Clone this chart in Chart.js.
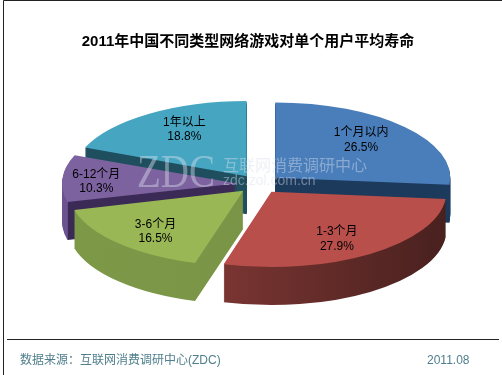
<!DOCTYPE html>
<html>
<head>
<meta charset="utf-8">
<script src="https://cdn.jsdelivr.net/npm/chart.js@4"></script>
<style>
  html, body { margin: 0; padding: 0; background: #fff; }
  #wrap { position: relative; width: 502px; height: 375px; overflow: hidden; }
</style>
</head>
<body>
<div id="wrap"><canvas id="lifeChart" width="502" height="375"></canvas></div>
<script>
  // ------------------------------- Data -------------------------------------
  const categories = ['1个月以内', '1-3个月', '3-6个月', '6-12个月', '1年以上'];
  const shares = [26.5, 27.9, 16.5, 10.3, 18.8];

  const titleText = '2011年中国不同类型网络游戏对单个用户平均寿命';
  const sourceText = '数据来源：互联网消费调研中心(ZDC)';
  const dateText = '2011.08';

  // ------------------------------ Colors ------------------------------------
  const TOP_COL = ['#4a7ebb', '#b94f4b', '#9ab755', '#7d62a0', '#46a6c2'];
  const FONT = '"Liberation Sans", "Noto Sans CJK SC", sans-serif';

  // ------------------------------ 3D look -----------------------------------
  const RADIUS = 175;
  const EXPLODE = 22;
  const SQUASH = 0.43; // ellipse height / width
  const DEPTH = 38;
  const SHIFT_X = 11; // pie sits right of the title's centre
  const DRAW_ORDER = [4, 0, 3, 2, 1]; // back to front

  // label distance from the wedge tip, and a small vertical nudge
  const LABEL_R = [116, 116, 123, 141, 112];
  const LABEL_DY = [-4, 6, 4, 2, -6.5];

  function sideFill(ctx, i, cx) {
    const g = ctx.createLinearGradient(cx - 200, 0, cx + 200, 0);
    if (i === 0) {
      g.addColorStop(0, '#1c3a5c');
      g.addColorStop(1, '#1c3a5c');
    } else if (i === 1) {
      g.addColorStop(0, '#97423f');
      g.addColorStop(0.35, '#7c3633');
      g.addColorStop(0.95, '#47201e');
      g.addColorStop(1, '#47201e');
    } else if (i === 2) {
      g.addColorStop(0, '#7d9a48');
      g.addColorStop(1, '#778f45');
    } else if (i === 3) {
      // outer rim on the far left, then the dark cut face
      g.addColorStop(0, '#6d5290');
      g.addColorStop(0.076, '#6d5290');
      g.addColorStop(0.077, '#3b2a56');
      g.addColorStop(1, '#3b2a56');
    } else {
      g.addColorStop(0, '#1f4e5f');
      g.addColorStop(1, '#1f4e5f');
    }
    return g;
  }

  const pie3d = {
    id: 'pie3d',
    beforeDatasetDraw(chart) {
      const ctx = chart.ctx;
      const arcs = chart.getDatasetMeta(0).data;
      const cx = arcs[0].x;
      const cy = arcs[0].y;

      // Chart.js also grows narrow exploded arcs, so keep every wedge the same size
      arcs.forEach((arc) => {
        const fix = 1 - Math.sin(Math.min(Math.PI, arc.circumference));
        arc.outerRadius = RADIUS - EXPLODE * fix;
      });

      ctx.save();
      ctx.translate(cx + SHIFT_X, cy);
      ctx.scale(1, SQUASH);
      ctx.translate(-cx, -cy);

      DRAW_ORDER.forEach((i) => {
        const arc = arcs[i];
        const realOptions = arc.options;
        arc.options = { ...realOptions, backgroundColor: sideFill(ctx, i, cx) };
        for (let d = DEPTH; d > 0; d--) {
          ctx.save();
          ctx.translate(0, d / SQUASH);
          arc.draw(ctx);
          ctx.restore();
        }
        arc.options = realOptions;
        arc.draw(ctx);
      });
      ctx.restore();
      return false; // drawn above
    },
    afterDraw(chart) {
      const ctx = chart.ctx;
      const arcs = chart.getDatasetMeta(0).data;

      // Wedge labels
      ctx.save();
      ctx.fillStyle = '#000';
      ctx.textAlign = 'center';
      ctx.textBaseline = 'middle';
      ctx.font = '12px ' + FONT;
      arcs.forEach((arc, i) => {
        const mid = (arc.startAngle + arc.endAngle) / 2;
        const dist = EXPLODE + LABEL_R[i];
        const x = arc.x + SHIFT_X + Math.cos(mid) * dist;
        const y = arc.y + Math.sin(mid) * dist * SQUASH + LABEL_DY[i];
        ctx.fillText(categories[i], x, y - 7);
        ctx.fillText(shares[i].toFixed(1) + '%', x, y + 7.5);
      });
      ctx.restore();

      // Watermark
      ctx.save();
      ctx.textBaseline = 'alphabetic';
      ctx.fillStyle = 'rgba(214,222,236,0.45)';
      ctx.font = '46px "Liberation Serif", serif';
      ctx.fillText('ZDC', 137, 187, 78);
      ctx.font = '16px "Noto Sans CJK SC", sans-serif';
      ctx.fillText('互联网消费调研中心', 223, 171);
      ctx.font = '14px ' + FONT;
      ctx.fillText('zdc.zol.com.cn', 223, 185, 105);
      ctx.restore();

      // Frame and footer
      ctx.save();
      ctx.strokeStyle = '#222';
      ctx.lineWidth = 1;
      ctx.beginPath();
      ctx.moveTo(3.5, 375);
      ctx.lineTo(3.5, 0.5);
      ctx.lineTo(502, 0.5);
      ctx.moveTo(7, 339.5);
      ctx.lineTo(499, 339.5);
      ctx.stroke();
      ctx.fillStyle = '#4f7f8c';
      ctx.textBaseline = 'middle';
      ctx.font = '12px ' + FONT;
      ctx.fillText(sourceText, 20, 361);
      ctx.fillText(dateText, 427, 361);
      ctx.restore();
    },
  };

  // eslint-disable-next-line no-undef
  new Chart(document.getElementById('lifeChart').getContext('2d'), {
    type: 'pie',
    data: {
      labels: categories,
      datasets: [
        {
          data: shares,
          backgroundColor: TOP_COL,
          borderWidth: 0,
          offset: EXPLODE * 4, // Chart.js moves an arc by offset / 4
          clip: false,
        },
      ],
    },
    options: {
      responsive: false,
      animation: false,
      radius: RADIUS,
      layout: { padding: { right: 6, bottom: 61 } },
      plugins: {
        legend: { display: false },
        tooltip: { enabled: false },
        title: {
          display: true,
          text: titleText,
          color: '#000',
          font: { family: FONT, size: 15, weight: 'bold', lineHeight: 1.2 },
          padding: { top: 33, bottom: 3 },
        },
      },
    },
    plugins: [pie3d],
  });
</script>
</body>
</html>
